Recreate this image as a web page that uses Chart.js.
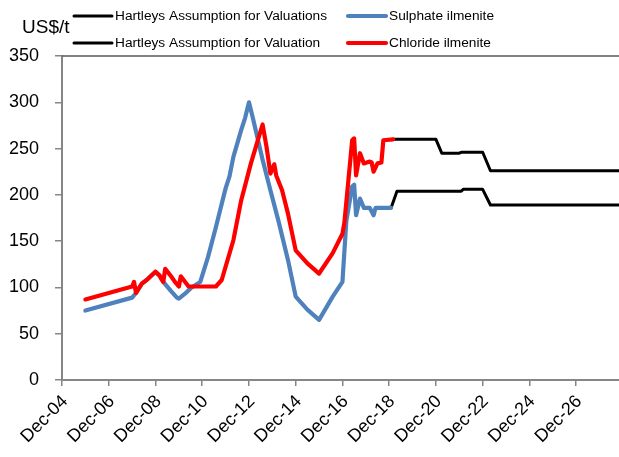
<!DOCTYPE html>
<html>
<head>
<meta charset="utf-8">
<script src="https://cdn.jsdelivr.net/npm/chart.js@4/dist/chart.umd.min.js"></script>
<style>
  html, body { margin: 0; padding: 0; background: #fff; overflow: hidden; }
  #wrap { width: 619px; height: 457px; position: relative; }
</style>
</head>
<body>
<div id="wrap"><canvas id="chart" width="619" height="457"></canvas></div>
<script>
// Month axis origin: Dec-04 is month 0
const AXIS_START = '2004-12';
const AXIS_END = '2028-10';
const TICK_YEARS = [2004, 2006, 2008, 2010, 2012, 2014, 2016, 2018, 2020, 2022, 2024, 2026];
const Y_TICKS = [0, 50, 100, 150, 200, 250, 300, 350];

// Sulphate ilmenite, US$/t
const sulphateMonths = ['2005-12','2007-12','2008-02','2008-05','2008-08','2008-12','2009-02','2009-04',
  '2009-08','2009-11','2009-12','2010-03','2010-06','2010-11','2011-03','2011-07','2011-12','2012-02',
  '2012-04','2012-08','2012-10','2012-12','2013-02','2013-07','2013-11','2014-03','2014-08','2014-12',
  '2015-06','2015-12','2016-07','2016-12','2017-02','2017-05','2017-06','2017-07','2017-09','2017-11',
  '2018-02','2018-04','2018-05','2019-01'];
const sulphateValues = [75, 89, 94, 104, 109, 117, 113, 106,
  96, 89, 88, 93, 99, 106, 133, 165, 207, 220,
  241, 270, 283, 300, 283, 238, 205, 173, 130, 90,
  76, 65, 90, 106, 172, 209, 211, 178, 196, 186,
  186, 178, 186, 186];

// Chloride ilmenite, US$/t
const chlorideMonths = ['2005-12','2007-12','2008-01','2008-02','2008-05','2008-08','2008-12','2009-02',
  '2009-04','2009-05','2009-08','2009-10','2009-12','2010-01','2010-05','2011-07','2011-10','2012-04',
  '2012-08','2013-01','2013-05','2013-07','2013-09','2013-11','2014-01','2014-02','2014-05','2014-08',
  '2014-12','2015-06','2015-12','2016-07','2016-12','2017-01','2017-05','2017-06','2017-07','2017-09',
  '2017-11','2018-02','2018-03','2018-04','2018-06','2018-08','2018-09','2019-02'];
const chlorideValues = [87, 101, 106, 94, 104, 109, 117, 113,
  106, 120, 112, 106, 101, 112, 101, 101, 108, 151,
  194, 234, 262, 276, 252, 223, 233, 221, 205, 180,
  140, 126, 115, 137, 158, 170, 259, 261, 221, 245,
  234, 236, 235, 225, 234, 235, 259, 260];

// Hartleys assumptions (forecast paths)
const assumptionAMonths = ['2019-02','2020-12','2021-03','2021-12','2022-01','2022-12','2023-04','2028-10'];
const assumptionAValues = [260, 260, 245, 245, 246, 246, 226, 226];
const assumptionBMonths = ['2019-01','2019-04','2022-01','2022-02','2022-12','2023-04','2028-10'];
const assumptionBValues = [186, 204, 204, 206, 206, 189, 189];

const SERIES_NAMES = ['Hartleys Assumption for Valuations', 'Sulphate ilmenite',
                      'Hartleys Assumption for Valuation', 'Chloride ilmenite'];

function monthIndex(s) {
  const [y, m] = s.split('-').map(Number);
  const [y0, m0] = AXIS_START.split('-').map(Number);
  return (y - y0) * 12 + (m - m0);
}
function toPoints(months, values) {
  return months.map((d, i) => ({ x: monthIndex(d), y: values[i] }));
}
function monthLabel(idx) {
  const [y0, m0] = AXIS_START.split('-').map(Number);
  const total = y0 * 12 + (m0 - 1) + idx;
  const yr = Math.floor(total / 12);
  const names = ['Jan','Feb','Mar','Apr','May','Jun','Jul','Aug','Sep','Oct','Nov','Dec'];
  return names[total % 12] + '-' + String(yr % 100).padStart(2, '0');
}

const FONT = "'Liberation Sans', Arial, sans-serif";
const AXIS_GREY = '#868686';

// Two-column legend and unit caption drawn above the plot
const legendPlugin = {
  id: 'topLegend',
  afterDraw(chart) {
    const ctx = chart.ctx;
    const area = chart.chartArea;
    ctx.save();
    // frame line along the top of the plot
    ctx.strokeStyle = '#595959';
    ctx.lineWidth = 1.5;
    ctx.beginPath();
    ctx.moveTo(area.left, area.top);
    ctx.lineTo(area.right, area.top);
    ctx.stroke();

    ctx.fillStyle = '#000';
    ctx.font = '19px ' + FONT;
    ctx.textBaseline = 'alphabetic';
    ctx.textAlign = 'left';
    ctx.fillText('US$/t', 22, 33);

    const slots = [
      { ds: 0, x: 74, y: 16 }, { ds: 1, x: 348, y: 16 },
      { ds: 2, x: 74, y: 43 }, { ds: 3, x: 348, y: 43 }
    ];
    ctx.font = '13.7px ' + FONT;
    ctx.textBaseline = 'middle';
    slots.forEach(s => {
      const ds = chart.data.datasets[s.ds];
      ctx.strokeStyle = ds.borderColor;
      ctx.lineWidth = ds.borderWidth;
      ctx.lineCap = 'round';
      ctx.beginPath();
      ctx.moveTo(s.x, s.y);
      ctx.lineTo(s.x + 38, s.y);
      ctx.stroke();
      ctx.fillStyle = '#000';
      ctx.fillText(ds.label, s.x + 41, s.y);
    });
    ctx.restore();
  }
};

const common = { pointRadius: 0, tension: 0, borderJoinStyle: 'round', borderCapStyle: 'round', fill: false };

new Chart(document.getElementById('chart'), {
  type: 'line',
  data: {
    datasets: [
      { ...common, label: SERIES_NAMES[0], data: toPoints(assumptionAMonths, assumptionAValues),
        borderColor: '#000000', borderWidth: 3, order: 3 },
      { ...common, label: SERIES_NAMES[1], data: toPoints(sulphateMonths, sulphateValues),
        borderColor: '#4F81BD', borderWidth: 4.2, order: 1 },
      { ...common, label: SERIES_NAMES[2], data: toPoints(assumptionBMonths, assumptionBValues),
        borderColor: '#000000', borderWidth: 3, order: 2 },
      { ...common, label: SERIES_NAMES[3], data: toPoints(chlorideMonths, chlorideValues),
        borderColor: '#FF0000', borderWidth: 4.2, order: 0 }
    ]
  },
  options: {
    responsive: false,
    animation: false,
    events: [],
    layout: { padding: { top: 56, left: 0, right: 0, bottom: 0 } },
    plugins: { legend: { display: false }, tooltip: { enabled: false }, title: { display: false } },
    scales: {
      x: {
        type: 'linear',
        min: 0,
        max: monthIndex(AXIS_END),
        afterBuildTicks(scale) {
          scale.ticks = TICK_YEARS.map(y => ({ value: monthIndex(y + '-12') }));
        },
        afterFit(scale) { scale.height = 77; },
        ticks: {
          autoSkip: false,
          maxRotation: 45,
          minRotation: 45,
          padding: 5,
          labelOffset: 3,
          color: '#000',
          font: { family: FONT, size: 18 },
          callback: v => monthLabel(v)
        },
        grid: { drawOnChartArea: false, drawTicks: true, tickLength: 6, color: AXIS_GREY, lineWidth: 1.5 },
        border: { display: true, color: AXIS_GREY, width: 2 }
      },
      y: {
        min: 0,
        max: 350,
        afterBuildTicks(scale) {
          scale.ticks = Y_TICKS.map(v => ({ value: v }));
        },
        afterFit(scale) { scale.width = 62; },
        ticks: {
          padding: 16,
          color: '#000',
          font: { family: FONT, size: 18 }
        },
        grid: { drawOnChartArea: false, drawTicks: true, tickLength: 7, color: AXIS_GREY, lineWidth: 1.5 },
        border: { display: true, color: AXIS_GREY, width: 2 }
      }
    }
  },
  plugins: [legendPlugin]
});
</script>
</body>
</html>
